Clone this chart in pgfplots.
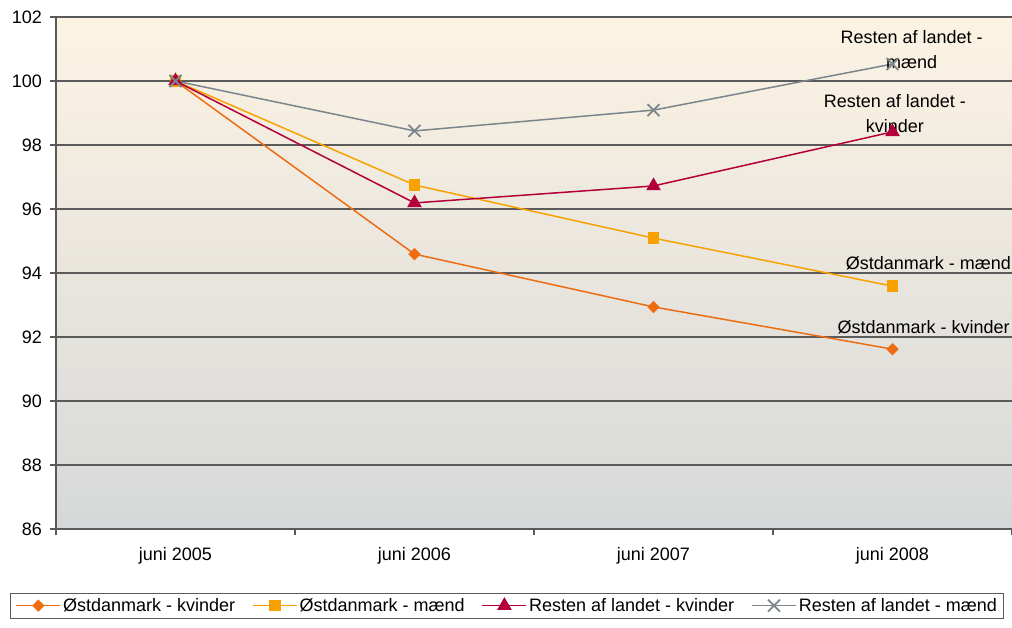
\documentclass[border=0pt]{standalone}
\usepackage{fontspec}
\setmainfont{Liberation Sans}
\usepackage{pgfplots}
\pgfplotsset{compat=1.18}

\definecolor{cKv}{HTML}{EE6C12}
\definecolor{cMa}{HTML}{F7A200}
\definecolor{rKv}{HTML}{B4003A}
\definecolor{rMa}{HTML}{7B868C}
\definecolor{gridc}{HTML}{5A5A5A}
\definecolor{bgtop}{HTML}{FCF3E3}
\definecolor{bgbot}{HTML}{D6D8D9}

\newcommand{\lbl}{\fontsize{18bp}{25bp}\selectfont}

\begin{document}
\begin{tikzpicture}
\begin{axis}[
  scale only axis, width=956bp, height=512bp,
  xmin=-0.5, xmax=3.5, ymin=86, ymax=102,
  axis x line=bottom, axis y line=left,
  axis line style={-, draw=gridc, line width=1.2bp},
  axis background/.style={shade, top color=bgtop, bottom color=bgbot},
  ytick={86,88,...,102},
  ymajorgrids, grid style={draw=gridc, line width=1.1bp},
  xtick={0,1,2,3},
  xticklabels={juni 2005, juni 2006, juni 2007, juni 2008},
  minor xtick={-0.5,0.5,1.5,2.5,3.5},
  major x tick style={draw=none},
  minor x tick style={draw=gridc, line width=1.1bp},
  ytick style={draw=gridc, line width=1.1bp},
  tick align=outside, major tick length=6bp, minor tick length=6bp,
  /pgf/number format/assume math mode=true,
  tick label style={font=\lbl},
  yticklabel style={inner sep=0pt, xshift=-8bp},
  xticklabel style={inner sep=0pt, yshift=-12bp},
  clip=false,
  legend columns=-1,
  legend style={at={(0.472,-0.125)}, anchor=north, draw=gridc, line width=0.8bp,
    font=\lbl, inner xsep=5bp, inner ysep=3bp,
    /tikz/every even column/.append style={column sep=15bp}},
  legend image code/.code={\draw[mark repeat=2, mark phase=2, #1, line width=1.5bp]
    plot coordinates {(0bp,0bp) (22bp,0bp) (44bp,0bp)};},
]
\addplot[cKv, line width=1.5bp, mark=square*, mark size=3.6bp, mark options={rotate=45, solid}]
  coordinates {(0,100) (1,94.59) (2,92.94) (3,91.62)};
\addlegendentry{Østdanmark - kvinder}
\addplot[cMa, line width=1.5bp, mark=square*, mark size=5bp, mark options={solid}]
  coordinates {(0,100) (1,96.75) (2,95.09) (3,93.59)};
\addlegendentry{Østdanmark - mænd}
\addplot[rKv, line width=1.5bp, mark=triangle*, mark size=7bp, mark options={solid}]
  coordinates {(0,100) (1,96.19) (2,96.72) (3,98.41)};
\addlegendentry{Resten af landet - kvinder}
\addplot[rMa, line width=1.5bp, mark=x, mark size=8.5bp, mark options={solid, line width=1.8bp}]
  coordinates {(0,100) (1,98.44) (2,99.09) (3,100.53)};
\addlegendentry{Resten af landet - mænd}

\node[font=\lbl, align=center, text=black] at (axis cs:3.08,100.98) {Resten af landet -\\mænd};
\node[font=\lbl, align=center, text=black] at (axis cs:3.01,98.98) {Resten af landet -\\kvinder};
\node[font=\lbl, text=black] at (axis cs:3.15,94.31) {Østdanmark - mænd};
\node[font=\lbl, text=black] at (axis cs:3.13,92.31) {Østdanmark - kvinder};
\end{axis}
\pgfresetboundingbox
\path[use as bounding box] ([shift={(-56bp,-99bp)}]current axis.south west)
  rectangle ([shift={(0bp,529bp)}]current axis.south east);
\end{tikzpicture}
\end{document}
